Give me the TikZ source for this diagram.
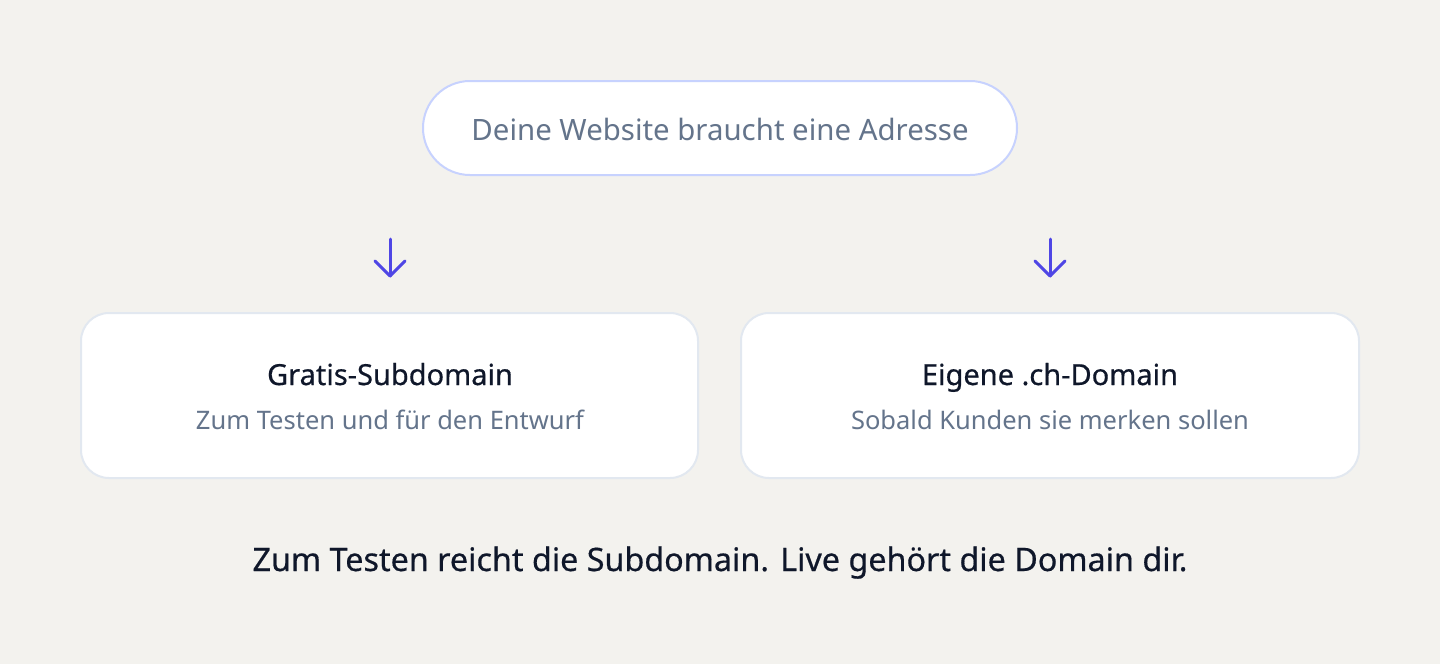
\documentclass[tikz,border=0pt]{standalone}
\usepackage{fontspec}
\setmainfont{Noto Sans}
\newfontfamily\medfont[FakeBold=0.5]{Noto Sans}
\usetikzlibrary{arrows.meta,calc}
\definecolor{bg}{HTML}{F3F2EE}
\definecolor{pillborder}{HTML}{C7D2FE}
\definecolor{boxborder}{HTML}{E2E8F0}
\definecolor{slate}{HTML}{64748B}
\definecolor{ink}{HTML}{0F172A}
\definecolor{indigo}{HTML}{4F46E5}
\tikzset{
  pill/.style={draw=pillborder, line width=2pt, fill=white, rounded corners=47pt},
  card/.style={draw=boxborder, line width=2pt, fill=white, rounded corners=28pt},
  arr/.style={draw=indigo, line width=3pt, line cap=round, line join=round},
  txt/.style={anchor=base, inner sep=0pt},
  headtxt/.style={txt, text=slate, font=\fontsize{29.4}{34}\selectfont},
  titletxt/.style={txt, text=ink, font=\medfont\fontsize{29}{34}\selectfont},
  subtxt/.style={txt, text=slate, font=\fontsize{25.5}{30}\selectfont},
  foottxt/.style={txt, text=ink, font=\medfont\fontsize{32.3}{38}\selectfont},
}
\begin{document}
\begin{tikzpicture}[x=1pt,y=-1pt]
\fill[bg] (0,0) rectangle (1440,664);
\useasboundingbox (0,0) rectangle (1440,664);
% top pill
\draw[pill] (423,81) rectangle (1017,175);
\node[headtxt] (top) at (720,140) {Deine Website braucht eine Adresse};
% arrows
\coordinate (a1s) at (390,239);
\coordinate (a1e) at (390,276);
\coordinate (a2s) at (1050,239);
\coordinate (a2e) at (1050,276);
\draw[arr] (a1s) -- (a1e);
\draw[arr] ($(a1e)+(-15,-15)$) -- (a1e) -- ($(a1e)+(15,-15)$);
\draw[arr] (a2s) -- (a2e);
\draw[arr] ($(a2e)+(-15,-15)$) -- (a2e) -- ($(a2e)+(15,-15)$);
% cards
\draw[card] (81,313) rectangle (698,478);
\draw[card] (741,313) rectangle (1359,478);
\node[titletxt] (l1) at (390,385) {Gratis-Subdomain};
\node[subtxt] (l2) at (390,429) {Zum Testen und für den Entwurf};
\node[titletxt] (r1) at (1050,385) {Eigene .ch-Domain};
\node[subtxt] (r2) at (1050,429) {Sobald Kunden sie merken sollen};
% footer
\node[foottxt] (foot) at (720,571) {Zum Testen reicht die Subdomain. Live gehört die Domain dir.};
\end{tikzpicture}
\end{document}
